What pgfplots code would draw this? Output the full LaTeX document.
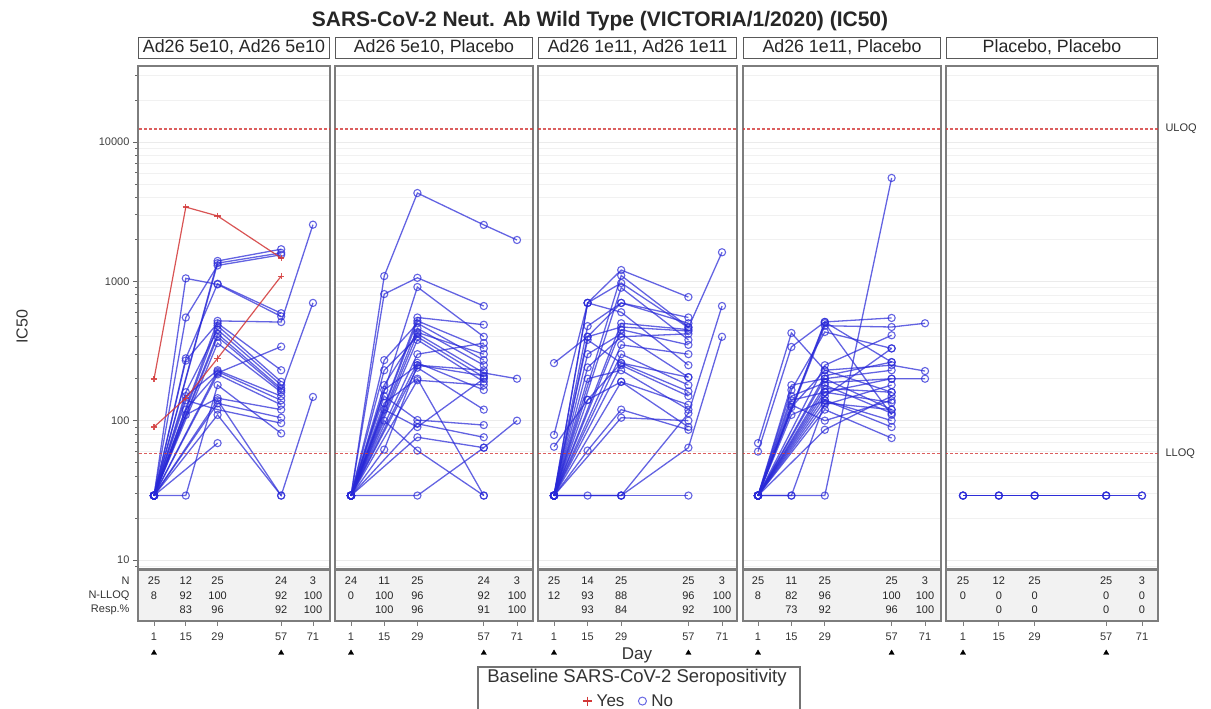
\documentclass[border=0pt]{standalone}
\usepackage{pgfplots}
\pgfplotsset{compat=1.18}
\usepackage{fontspec}
\setmainfont{Liberation Sans}
\definecolor{sb}{RGB}{40,40,215}
\definecolor{sr}{RGB}{210,55,55}
\definecolor{fr}{RGB}{125,125,125}
\newcommand{\fs}[1]{\fontsize{#1}{#1}\selectfont}
\pgfplotsset{
  pnlsty/.style={scale only axis, height=503pt, ymin=8.62, ymax=35100,
    ytick={10,100,1000,10000}, yticklabels={},
    minor ytick={9,20,30,40,50,60,70,80,90,200,300,400,500,600,700,800,900,2000,3000,4000,5000,6000,7000,8000,9000,20000,30000},
    ymajorgrids, yminorgrids, major grid style={gray!16, line width=0.6pt}, minor grid style={gray!11, line width=0.6pt},
    xtick=\empty, major tick length=0pt, minor tick length=0pt,
    axis line style={draw=fr, line width=1.4pt},
    clip mode=individual,
    title style={at={(0.5,1)}, anchor=south, yshift=1.5pt, draw=black!65, line width=0.9pt, fill=white, inner sep=0pt, minimum height=21pt, font=\fs{17.8}, text=black!85}},
  tblsty/.style={scale only axis, height=51pt, ymin=0, ymax=3, ytick=\empty, xtick={1,15,29,57,71},
    /pgf/number format/assume math mode=true,
    tick align=outside, xtick pos=left, major tick length=5pt, tick style={draw=fr, line width=0.8pt},
    xticklabel style={font=\fs{11}, text=black!80, yshift=-3pt},
    axis line style={draw=fr, line width=1.4pt}, axis background/.style={fill=gray!10}, clip=false},
  subjsty/.style={color=sb, line width=1.3pt, opacity=0.72, mark=o, mark size=3.6pt, mark options={solid, line width=1.1pt}},
  yessty/.style={color=sr, line width=1.2pt, opacity=0.85, mark=+, mark size=3.2pt},
  qsty/.style={color=sr, opacity=0.8, mark=none, dash pattern=on 3pt off 2pt, line width=1.2pt},
  rowsty/.style={forget plot, draw=none, mark=none, nodes near coords, nodes near coords align=center,
    point meta=explicit symbolic, nodes near coords style={font=\fs{11}, text=black!85}},
  arrsty/.style={forget plot, black, only marks, mark=triangle*, mark size=3pt},
}
\newcommand{\sj}[1]{\addplot[subjsty] coordinates {#1};}
\newcommand{\ys}[1]{\addplot[yessty] coordinates {#1};}
\newcommand{\qlines}{\addplot[qsty] coordinates {(-10,12400)(90,12400)};}
\newcommand{\llq}{\addplot[qsty] coordinates {(-10,58)(90,58)};}
\begin{document}
\begin{tikzpicture}
\path[use as bounding box] (0pt,0pt) rectangle (1211pt,709pt);
\node[font=\fs{21}\bfseries, text=black!85] at (600pt,688pt) {SARS-CoV-2 Neut. Ab Wild Type (VICTORIA/1/2020) (IC50)};
\node[rotate=90, font=\fs{16}, text=black!80] at (22pt,382pt) {IC50};
\node[anchor=base, font=\fs{17}, text=black!80] at (637pt,49pt) {Day};
\draw[black!55, line width=1.2pt] (478pt,-5pt) rectangle (800pt,42pt);
\node[anchor=base, font=\fs{18.5}, text=black!80] at (637pt,26pt) {Baseline SARS-CoV-2 Seropositivity};

% ---------------- Panel 1
\begin{axis}[ymode=log, pnlsty, at={(138pt,140pt)}, anchor=south west, width=192pt, xmin=-6.05, xmax=78.5,
  title={Ad26 5e10, Ad26 5e10}, title style={minimum width=191pt},
  yticklabels={10,100,1000,10000}, ytick pos=left, tick align=outside, major tick length=5pt, minor tick length=3pt,
  ytick style={draw=black!60, line width=0.8pt}, yticklabel style={font=\fs{11}, text=black!75}]
\qlines
\sj{(1,29)(15,1050)(29,950)(57,560)}
\sj{(1,29)(29,1400)(57,1700)}
\sj{(1,29)(29,1350)(57,1600)}
\sj{(1,29)(15,550)(29,1300)(57,1550)}
\sj{(1,29)(15,280)(29,960)(57,590)}
\sj{(1,29)(29,520)(57,510)(71,2550)}
\sj{(1,29)(15,270)(29,500)(57,230)}
\sj{(1,29)(29,480)(57,190)}
\sj{(1,29)(15,160)(29,450)(57,180)}
\sj{(1,29)(29,420)(57,170)}
\sj{(1,29)(29,400)(57,165)(71,700)}
\sj{(1,29)(29,360)(57,160)}
\sj{(1,29)(15,150)(29,230)(57,150)}
\sj{(1,29)(29,225)(57,140)}
\sj{(1,29)(15,120)(29,220)(57,340)}
\sj{(1,29)(29,215)(57,130)}
\sj{(1,29)(15,110)(29,145)(57,120)}
\sj{(1,29)(29,140)(57,29)}
\sj{(1,29)(29,133)(57,105)}
\sj{(1,29)(15,140)(29,120)(57,96)}
\sj{(1,29)(29,110)(57,29)(71,148)}
\sj{(1,29)(15,29)(29,180)(57,81)}
\sj{(1,29)(29,69)}
\ys{(1,199)(15,3410)(29,2945)(57,1470)}
\ys{(1,90)(15,145)(29,280)(57,1090)}
\llq
\end{axis}
\begin{axis}[tblsty, at={(138pt,88pt)}, anchor=south west, width=192pt, xmin=-6.05, xmax=78.5,
  ytick={0.65,1.5,2.35}, yticklabels={Resp.\%, N-LLOQ, N}, ytick pos=left, ytick style={draw=none},
  yticklabel style={font=\fs{11}, text=black!80}]
\addplot[rowsty] coordinates {(1,2.35)[25] (15,2.35)[12] (29,2.35)[25] (57,2.35)[24] (71,2.35)[3]};
\addplot[rowsty] coordinates {(1,1.5)[8] (15,1.5)[92] (29,1.5)[100] (57,1.5)[92] (71,1.5)[100]};
\addplot[rowsty] coordinates {(15,0.65)[83] (29,0.65)[96] (57,0.65)[92] (71,0.65)[100]};
\addplot[arrsty] coordinates {(1,-1.88)(57,-1.88)};
\end{axis}

% ---------------- Panel 2
\begin{axis}[ymode=log, pnlsty, at={(335pt,140pt)}, anchor=south west, width=198pt, xmin=-5.75, xmax=77.75,
  title={Ad26 5e10, Placebo}, title style={minimum width=197pt}]
\qlines
\sj{(1,29)(15,1090)(29,4300)(57,2540)(71,1980)}
\sj{(1,29)(15,810)(29,1060)(57,665)}
\sj{(1,29)(29,910)(57,400)}
\sj{(1,29)(29,550)(57,488)}
\sj{(1,29)(29,520)(57,330)}
\sj{(1,29)(15,272)(29,500)(57,272)}
\sj{(1,29)(29,460)(57,250)}
\sj{(1,29)(29,420)(57,220)(71,200)}
\sj{(1,29)(15,230)(29,400)(57,205)}
\sj{(1,29)(29,380)(57,190)}
\sj{(1,29)(29,260)(57,166)}
\sj{(1,29)(15,166)(29,250)(57,230)}
\sj{(1,29)(29,240)(57,120)}
\sj{(1,29)(15,134)(29,200)(57,29)}
\sj{(1,29)(29,195)(57,180)}
\sj{(1,29)(15,150)(29,101)(57,93)}
\sj{(1,29)(29,95)(57,76)}
\sj{(1,29)(15,120)(29,90)(57,200)}
\sj{(1,29)(29,76)(57,64)(71,100)}
\sj{(1,29)(15,100)(29,61)(57,29)}
\sj{(1,29)(15,62)(29,250)(57,210)}
\sj{(1,29)(29,29)(57,64)}
\sj{(1,29)(29,300)(57,360)}
\sj{(1,29)(15,180)(29,430)(57,300)}
\llq
\end{axis}
\begin{axis}[tblsty, at={(335pt,88pt)}, anchor=south west, width=198pt, xmin=-5.75, xmax=77.75]
\addplot[rowsty] coordinates {(1,2.35)[24] (15,2.35)[11] (29,2.35)[25] (57,2.35)[24] (71,2.35)[3]};
\addplot[rowsty] coordinates {(1,1.5)[0] (15,1.5)[100] (29,1.5)[96] (57,1.5)[92] (71,1.5)[100]};
\addplot[rowsty] coordinates {(15,0.65)[100] (29,0.65)[96] (57,0.65)[91] (71,0.65)[100]};
\addplot[arrsty] coordinates {(1,-1.88)(57,-1.88)};
\end{axis}

% ---------------- Panel 3
\begin{axis}[ymode=log, pnlsty, at={(538pt,140pt)}, anchor=south west, width=199pt, xmin=-5.67, xmax=77.25,
  title={Ad26 1e11, Ad26 1e11}, title style={minimum width=198pt}]
\qlines
\sj{(1,259)(15,400)(29,700)(57,550)}
\sj{(1,79)(15,700)(29,1205)(57,771)}
\sj{(1,65)(15,141)(29,259)(57,205)}
\sj{(1,29)(15,700)(29,973)(57,465)(71,1616)}
\sj{(1,29)(15,477)(29,700)(57,500)}
\sj{(1,29)(15,400)(29,470)(57,440)}
\sj{(1,29)(15,241)(29,400)(57,420)}
\sj{(1,29)(29,350)(57,300)}
\sj{(1,29)(15,700)(29,600)(57,250)}
\sj{(1,29)(15,380)(29,259)(57,162)}
\sj{(1,29)(15,141)(29,190)(57,130)}
\sj{(1,29)(15,61)(29,120)(57,86)}
\sj{(1,29)(15,29)(29,29)(57,29)}
\sj{(1,29)(29,29)(57,113)(71,665)}
\sj{(1,29)(29,29)(57,64)(71,400)}
\sj{(1,29)(29,1100)(57,470)}
\sj{(1,29)(29,900)(57,380)}
\sj{(1,29)(29,500)(57,450)}
\sj{(1,29)(29,450)(57,350)}
\sj{(1,29)(15,300)(29,420)(57,205)}
\sj{(1,29)(29,300)(57,180)}
\sj{(1,29)(29,250)(57,150)}
\sj{(1,29)(15,200)(29,230)(57,120)}
\sj{(1,29)(29,105)(57,100)}
\sj{(1,29)(29,190)(57,90)}
\llq
\end{axis}
\begin{axis}[tblsty, at={(538pt,88pt)}, anchor=south west, width=199pt, xmin=-5.67, xmax=77.25,
  legend style={at={(0.457,-1.57)}, anchor=center, draw=none, fill=none, font=\fs{17},
    /tikz/every odd column/.append style={column sep=3pt},
    /tikz/every even column/.append style={column sep=12pt}}, legend columns=2]
\addplot[rowsty] coordinates {(1,2.35)[25] (15,2.35)[14] (29,2.35)[25] (57,2.35)[25] (71,2.35)[3]};
\addplot[rowsty] coordinates {(1,1.5)[12] (15,1.5)[93] (29,1.5)[88] (57,1.5)[96] (71,1.5)[100]};
\addplot[rowsty] coordinates {(15,0.65)[93] (29,0.65)[84] (57,0.65)[92] (71,0.65)[100]};
\addplot[arrsty] coordinates {(1,-1.88)(57,-1.88)};
\addlegendimage{only marks, mark=+, color=sr, mark size=4.5pt, line width=1.4pt}
\addlegendentry{\color{black!80}Yes}
\addlegendimage{only marks, mark=o, color=sb!70, mark size=4pt, line width=1pt}
\addlegendentry{\color{black!80}No}
\end{axis}

% ---------------- Panel 4
\begin{axis}[ymode=log, pnlsty, at={(743pt,140pt)}, anchor=south west, width=198pt, xmin=-5.29, xmax=77.7,
  title={Ad26 1e11, Placebo}, title style={minimum width=197pt}]
\qlines
\sj{(1,69)(15,426)(29,230)(57,160)}
\sj{(1,60)(15,338)(29,511)(57,263)}
\sj{(1,29)(29,511)(57,546)}
\sj{(1,29)(29,480)(57,470)(71,500)}
\sj{(1,29)(15,166)(29,433)(57,330)}
\sj{(1,29)(29,250)(57,410)}
\sj{(1,29)(15,125)(29,230)(57,250)(71,227)}
\sj{(1,29)(29,200)(57,230)}
\sj{(1,29)(15,150)(29,187)(57,200)(71,200)}
\sj{(1,29)(29,180)(57,113)}
\sj{(1,29)(29,170)(57,160)}
\sj{(1,29)(15,140)(29,160)(57,135)}
\sj{(1,29)(29,150)(57,330)}
\sj{(1,29)(29,140)(57,90)}
\sj{(1,29)(15,29)(29,134)(57,120)}
\sj{(1,29)(29,130)(57,180)}
\sj{(1,29)(29,120)(57,75)}
\sj{(1,29)(15,29)(29,29)(57,5520)}
\sj{(1,29)(29,86)(57,150)}
\sj{(1,29)(15,110)(29,140)(57,100)}
\sj{(1,29)(29,210)(57,263)}
\sj{(1,29)(15,180)(29,200)(57,120)}
\sj{(1,29)(29,500)(57,110)}
\sj{(1,29)(15,130)(29,100)(57,140)}
\sj{(1,29)(29,160)(57,200)}
\llq
\end{axis}
\begin{axis}[tblsty, at={(743pt,88pt)}, anchor=south west, width=198pt, xmin=-5.29, xmax=77.7]
\addplot[rowsty] coordinates {(1,2.35)[25] (15,2.35)[11] (29,2.35)[25] (57,2.35)[25] (71,2.35)[3]};
\addplot[rowsty] coordinates {(1,1.5)[8] (15,1.5)[82] (29,1.5)[96] (57,1.5)[100] (71,1.5)[100]};
\addplot[rowsty] coordinates {(15,0.65)[73] (29,0.65)[92] (57,0.65)[96] (71,0.65)[100]};
\addplot[arrsty] coordinates {(1,-1.88)(57,-1.88)};
\end{axis}

% ---------------- Panel 5
\begin{axis}[ymode=log, pnlsty, at={(946pt,140pt)}, anchor=south west, width=212pt, xmin=-5.65, xmax=77.26,
  title={Placebo, Placebo}, title style={minimum width=211pt}]
\qlines
\sj{(1,29)(15,29)(29,29)(57,29)(71,29)}
\sj{(1,29)(15,29)(29,29)(57,29)(71,29)}
\sj{(1,29)(15,29)(29,29)(57,29)}
\llq
\node[anchor=west, font=\fs{11}, text=black!80, xshift=4pt] at (axis cs:77.26,12400) {ULOQ};
\node[anchor=west, font=\fs{11}, text=black!80, xshift=4pt] at (axis cs:77.26,58) {LLOQ};
\end{axis}
\begin{axis}[tblsty, at={(946pt,88pt)}, anchor=south west, width=212pt, xmin=-5.65, xmax=77.26]
\addplot[rowsty] coordinates {(1,2.35)[25] (15,2.35)[12] (29,2.35)[25] (57,2.35)[25] (71,2.35)[3]};
\addplot[rowsty] coordinates {(1,1.5)[0] (15,1.5)[0] (29,1.5)[0] (57,1.5)[0] (71,1.5)[0]};
\addplot[rowsty] coordinates {(15,0.65)[0] (29,0.65)[0] (57,0.65)[0] (71,0.65)[0]};
\addplot[arrsty] coordinates {(1,-1.88)(57,-1.88)};
\end{axis}
\end{tikzpicture}
\end{document}
